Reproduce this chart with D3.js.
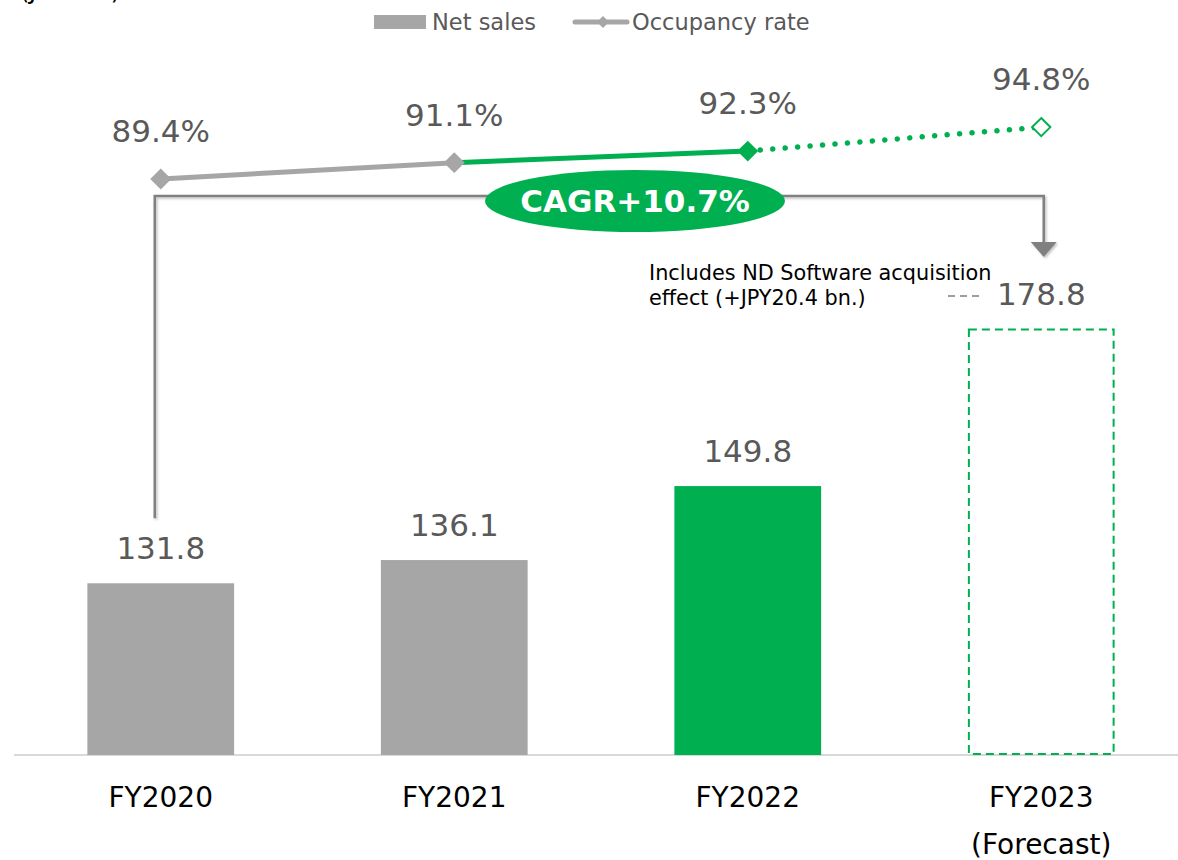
<!DOCTYPE html>
<html>
<head>
<meta charset="utf-8">
<script src="https://cdn.jsdelivr.net/npm/d3@7/dist/d3.min.js"></script>
<style>
  html, body { margin: 0; padding: 0; background: #fff; }
  svg { display: block; font-family: "DejaVu Sans", Verdana, sans-serif; }
</style>
</head>
<body>
<svg id="chart" width="1178" height="860"></svg>
<script>
// Fiscal years on the x axis
const categories = ["FY2020", "FY2021", "FY2022", "FY2023"];
const categorySub = ["", "", "", "(Forecast)"];
// Net sales, JPY bn.
const netSales = [131.8, 136.1, 149.8, 178.8];
// Occupancy rate, %
const occupancy = [89.4, 91.1, 92.3, 94.8];
const occupancyLabels = ["89.4%", "91.1%", "92.3%", "94.8%"];
const salesLabels = ["131.8", "136.1", "149.8", "178.8"];
const cagrText = "CAGR+10.7%";
const noteLines = ["Includes ND Software acquisition", "effect (+JPY20.4 bn.)"];

const GRAY = "#A6A6A6", GREEN = "#00B050", TEXT = "#595959";

const svg = d3.select("#chart");

const x = d3.scaleBand().domain(categories).range([14, 1188]).paddingInner(0.5).paddingOuter(0.25);
const ySales = d3.scaleLinear().domain([100, 200]).range([755, 215]);
const yOcc = d3.scaleLinear().domain([80, 100]).range([269.2, 77.2]);
const cx = c => x(c) + x.bandwidth() / 2;

const defs = svg.append("defs");
const shadow = defs.append("filter").attr("id", "soft").attr("x", "-5%").attr("y", "-5%").attr("width", "110%").attr("height", "120%");
shadow.append("feDropShadow").attr("dx", 1.5).attr("dy", 1.5).attr("stdDeviation", 1.2)
  .attr("flood-color", "#000").attr("flood-opacity", 0.25);

// Unit label (sits mostly above the top edge)
svg.append("text").attr("x", 20).attr("y", -1).attr("font-size", 24).attr("fill", "#000").text("(JPY bn.)");

// Legend
const lg = svg.append("g");
lg.append("rect").attr("x", 374).attr("y", 15).attr("width", 52).attr("height", 14).attr("fill", GRAY);
lg.append("text").attr("x", 432).attr("y", 30).attr("font-size", 22.5).attr("fill", TEXT).text("Net sales");
lg.append("line").attr("x1", 575).attr("x2", 627).attr("y1", 22).attr("y2", 22)
  .attr("stroke", GRAY).attr("stroke-width", 5).attr("stroke-linecap", "round");
lg.append("path").attr("d", d3.symbol(d3.symbolDiamond2, 90)()).attr("transform", "translate(603,22)").attr("fill", GRAY);
lg.append("text").attr("x", 632).attr("y", 30).attr("font-size", 22.5).attr("fill", TEXT).text("Occupancy rate");

// Baseline axis
svg.append("line").attr("x1", 14).attr("x2", 1178).attr("y1", ySales(100)).attr("y2", ySales(100))
  .attr("stroke", "#D9D9D9").attr("stroke-width", 2);

// Bars
const bars = categories.map((c, i) => ({ c, v: netSales[i], i }));
svg.selectAll("rect.bar").data(bars.filter(d => d.i < 3)).join("rect").attr("class", "bar")
  .attr("x", d => x(d.c)).attr("width", x.bandwidth())
  .attr("y", d => ySales(d.v)).attr("height", d => ySales(100) - ySales(d.v))
  .attr("fill", d => d.i === 2 ? GREEN : GRAY);
// Forecast bar: dashed outline
const fb = bars[3];
svg.append("rect").attr("x", x(fb.c) + 1).attr("width", x.bandwidth() - 2)
  .attr("y", ySales(fb.v)).attr("height", ySales(100) - ySales(fb.v) - 1)
  .attr("fill", "none").attr("stroke", GREEN).attr("stroke-width", 2).attr("stroke-dasharray", "8,5");

// Bar value labels
svg.selectAll("text.sales").data(bars).join("text").attr("class", "sales")
  .attr("x", d => cx(d.c)).attr("y", d => ySales(d.v) - 24)
  .attr("text-anchor", "middle").attr("font-size", 31).attr("fill", TEXT)
  .text(d => salesLabels[d.i]);

// Category labels
svg.selectAll("text.cat").data(categories).join("text").attr("class", "cat")
  .attr("x", d => cx(d)).attr("y", 807).attr("text-anchor", "middle").attr("font-size", 28).attr("fill", "#000")
  .text(d => d);
svg.selectAll("text.catsub").data(categories.map((c, i) => ({ c, s: categorySub[i] })).filter(d => d.s))
  .join("text").attr("class", "catsub")
  .attr("x", d => cx(d.c)).attr("y", 854).attr("text-anchor", "middle").attr("font-size", 28).attr("fill", "#000")
  .text(d => d.s);

// CAGR bracket with arrow
const bx0 = cx(categories[0]) - 6, bx1 = cx(categories[3]) + 2.5, by = 196;
const br = svg.append("g").attr("filter", "url(#soft)");
br.append("path")
  .attr("d", `M${bx0},${ySales(netSales[0]) - 65} V${by} H${bx1} V${243}`)
  .attr("fill", "none").attr("stroke", "#808080").attr("stroke-width", 2.5);
br.append("path").attr("d", `M${bx1 - 13},${242} L${bx1 + 13},${242} L${bx1},${257} Z`).attr("fill", "#808080");

// Occupancy line
const pts = categories.map((c, i) => [cx(c), yOcc(occupancy[i])]);
const line = d3.line();
svg.append("path").attr("d", line([pts[0], pts[1]])).attr("stroke", GRAY).attr("stroke-width", 5).attr("fill", "none");
svg.append("path").attr("d", line([pts[1], pts[2]])).attr("stroke", GREEN).attr("stroke-width", 5).attr("fill", "none");
svg.append("path").attr("d", line([pts[2], pts[3]])).attr("stroke", GREEN).attr("stroke-width", 5.5)
  .attr("fill", "none").attr("stroke-linecap", "round").attr("stroke-dasharray", "0.1,12.4");

// Markers
const diamond = d3.symbol(d3.symbolDiamond2, 280)();
pts.forEach((p, i) => {
  const m = svg.append("path").attr("d", i === 3 ? d3.symbol(d3.symbolDiamond2, 210)() : diamond)
    .attr("transform", `translate(${p[0]},${p[1]})`);
  if (i < 2) m.attr("fill", GRAY);
  else if (i === 2) m.attr("fill", GREEN);
  else m.attr("fill", "#fff").attr("stroke", GREEN).attr("stroke-width", 2);
});

// Occupancy labels
svg.selectAll("text.occ").data(pts).join("text").attr("class", "occ")
  .attr("x", d => d[0]).attr("y", d => d[1] - 37).attr("text-anchor", "middle")
  .attr("font-size", 31).attr("fill", TEXT).text((d, i) => occupancyLabels[i]);

// CAGR badge
svg.append("ellipse").attr("cx", 635).attr("cy", 201).attr("rx", 150).attr("ry", 31).attr("fill", GREEN);
svg.append("text").attr("x", 635).attr("y", 212).attr("text-anchor", "middle").attr("font-size", 31)
  .attr("font-weight", "bold").attr("fill", "#fff").text(cagrText);

// Acquisition note
svg.selectAll("text.note").data(noteLines).join("text").attr("class", "note")
  .attr("x", 649).attr("y", (d, i) => 280 + i * 25).attr("font-size", 20.8).attr("fill", "#000").text(d => d);
svg.append("line").attr("x1", 948).attr("x2", 983).attr("y1", 296).attr("y2", 296)
  .attr("stroke", "#7f7f7f").attr("stroke-width", 1.5).attr("stroke-dasharray", "7,5");
</script>
</body>
</html>
